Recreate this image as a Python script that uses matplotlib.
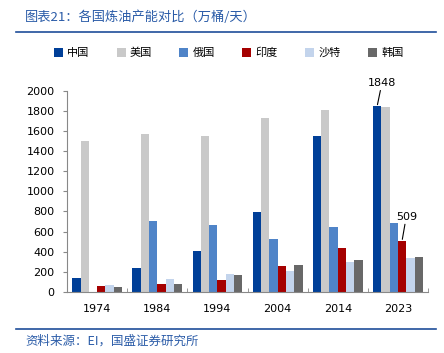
import numpy as np
import matplotlib.pyplot as plt

plt.rcParams['font.family'] = ['DejaVu Sans', 'Noto Sans CJK SC']

years = ['1974', '1984', '1994', '2004', '2014', '2023']
countries = ['中国', '美国', '俄国', '印度', '沙特', '韩国']
china = [137, 239, 405, 799, 1545, 1848]
usa = [1500, 1572, 1552, 1724, 1808, 1840]
russia = [0, 706, 670, 530, 647, 686]
india = [60, 75, 116, 259, 435, 509]
saudi = [68, 130, 174, 212, 298, 335]
korea = [50, 80, 166, 265, 318, 345]

series = [china, usa, russia, india, saudi, korea]
colors = ['#003F98', '#C9C9C9', '#4F84C8', '#A50000', '#C3D4EC', '#686868']

fig = plt.figure(figsize=(4.44, 3.53), dpi=100)
ax = fig.add_axes([0.151, 0.173, 0.813, 0.570])

x = np.arange(len(years))
w = 0.138
for i, (vals, c) in enumerate(zip(series, colors)):
    ax.bar(x + (i - 2.5) * w, vals, w, color=c, label=countries[i], zorder=2)

ax.set_xlim(-0.5, len(years) - 0.5)
ax.set_ylim(0, 2000)
ax.set_yticks(range(0, 2001, 200))
ax.set_xticks(x)
ax.set_xticklabels(years)
ax.set_xticks(np.arange(-0.5, len(years), 1), minor=True)
ax.tick_params(axis='x', which='major', length=0, labelsize=8, pad=9)
ax.tick_params(axis='x', which='minor', length=3, direction='in', color='#888888')
ax.tick_params(axis='y', length=3, direction='out', labelsize=8, color='#888888', pad=6)
for s in ['top', 'right']:
    ax.spines[s].set_visible(False)
ax.spines['left'].set_color('#888888')
ax.spines['bottom'].set_color('#888888')

# annotations
ax.annotate('1848', xy=(x[5] - 2.5 * w, china[5]), xytext=(x[5] - 2.5 * w + 0.08, 2030),
            ha='center', va='bottom', fontsize=8, annotation_clip=False,
            arrowprops=dict(arrowstyle='-', color='black', lw=0.8, shrinkA=0, shrinkB=1))
ax.annotate('509', xy=(x[5] + 0.5 * w, india[5]), xytext=(x[5] + 0.5 * w + 0.07, 700),
            ha='center', va='bottom', fontsize=8,
            arrowprops=dict(arrowstyle='-', color='black', lw=0.8, shrinkA=0, shrinkB=1))

leg = fig.legend(loc='center', bbox_to_anchor=(0.515, 0.85), ncol=6, frameon=False,
                 handlelength=0.8, handleheight=0.8, handletextpad=0.4,
                 columnspacing=2.45, prop={'family': ['Noto Sans CJK SC'], 'size': 8})

fig.text(0.057, 0.95, '图表21：各国炼油产能对比（万桶/天）', fontsize=9.5,
         color='#2B5CA8', family=['Noto Sans CJK SC'], va='center')
fig.add_artist(plt.Line2D([0.036, 0.982], [0.909, 0.909], color='#1F4E9A', lw=1.2))
fig.add_artist(plt.Line2D([0.036, 0.982], [0.068, 0.068], color='#1F4E9A', lw=1.2))
fig.text(0.057, 0.034, '资料来源：EI，国盛证券研究所', fontsize=9,
         color='#2B5CA8', family=['Noto Sans CJK SC'], va='center')

fig.savefig('out.png', dpi=100)
